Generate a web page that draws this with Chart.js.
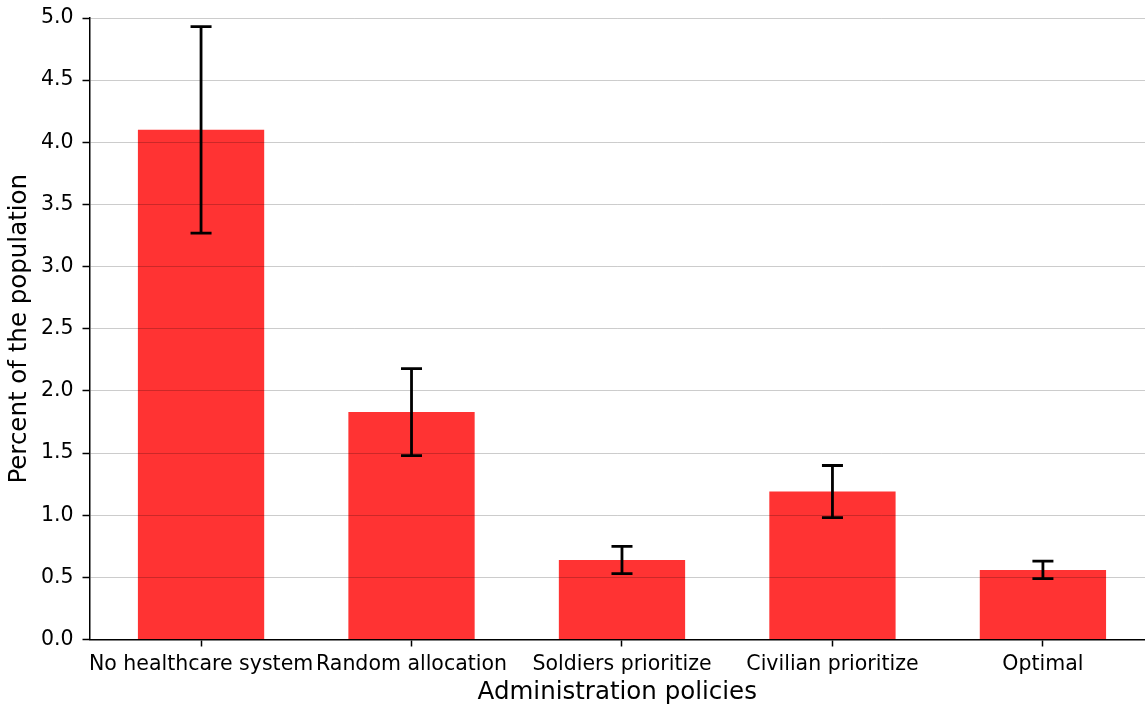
<!DOCTYPE html>
<html>
<head>
<meta charset="utf-8">
<script src="https://cdn.jsdelivr.net/npm/chart.js@4"></script>
<style>
  html, body { margin: 0; padding: 0; background: #fff; overflow: hidden; }
  #wrap { width: 1145px; height: 704px; }
</style>
</head>
<body>
<div id="wrap"><canvas id="chart"></canvas></div>
<script>
// policies and the share of the population (mean, lower and upper error)
const policies = ['No healthcare system', 'Random allocation', 'Soldiers prioritize', 'Civilian prioritize', 'Optimal'];
const rates = [4.10, 1.83, 0.64, 1.19, 0.56];
const errLow = [3.27, 1.48, 0.53, 0.98, 0.49];
const errHigh = [4.93, 2.18, 0.75, 1.40, 0.63];
const yTicks = [0, 0.5, 1, 1.5, 2, 2.5, 3, 3.5, 4, 4.5, 5];

Chart.defaults.font.family = '"DejaVu Sans", sans-serif';
Chart.defaults.color = '#000';

// draws the black error bars with caps
const errorBars = {
  id: 'errorBars',
  afterDraw(chart) {
    const ctx = chart.ctx;
    const x = chart.scales.x;
    const y = chart.scales.y;
    ctx.save();
    ctx.strokeStyle = '#000';
    ctx.lineWidth = 2.8;
    for (let i = 0; i < rates.length; i++) {
      const px = x.getPixelForValue(i);
      const top = y.getPixelForValue(errHigh[i]);
      const bot = y.getPixelForValue(errLow[i]);
      ctx.beginPath();
      ctx.moveTo(px, top);
      ctx.lineTo(px, bot);
      ctx.moveTo(px - 10.5, top);
      ctx.lineTo(px + 10.5, top);
      ctx.moveTo(px - 10.5, bot);
      ctx.lineTo(px + 10.5, bot);
      ctx.stroke();
    }
    ctx.restore();
  }
};

const ctx = document.getElementById('chart').getContext('2d');
const chart = new Chart(ctx, {
  type: 'bar',
  data: {
    datasets: [{
      data: policies.map((p, i) => ({ x: i, y: rates[i] })),
      backgroundColor: 'rgb(255, 51, 51)',
      borderWidth: 0,
      barPercentage: 0.6,
      categoryPercentage: 1.0
    }]
  },
  options: {
    responsive: true,
    maintainAspectRatio: false,
    animation: false,
    layout: { padding: { top: 18, right: 0, left: 0, bottom: -3 } },
    plugins: {
      legend: { display: false },
      tooltip: { enabled: false }
    },
    scales: {
      x: {
        type: 'linear',
        offset: false,
        min: -0.53,
        max: 4.485,
        afterBuildTicks: (axis) => { axis.ticks = policies.map((p, i) => ({ value: i })); },
        afterFit: (axis) => { axis.height = 67.5; axis.paddingLeft = 0; axis.paddingRight = 0; },
        ticks: {
          autoSkip: false,
          maxRotation: 0,
          padding: 6,
          font: { size: 20.5 },
          callback: (v) => policies[v]
        },
        grid: { offset: false, drawOnChartArea: false, tickLength: 7, tickColor: '#000', tickWidth: 1.5 },
        border: { color: '#000', width: 1.5, z: 2 },
        title: {
          display: true,
          text: 'Administration policies',
          font: { size: 24.5 },
          padding: { top: 0, bottom: 0 }
        }
      },
      y: {
        min: 0,
        max: 5,
        afterBuildTicks: (axis) => { axis.ticks = yTicks.map(v => ({ value: v })); },
        afterFit: (axis) => { axis.width = 89.5; axis.paddingTop = 0; axis.paddingBottom = 0; },
        ticks: {
          padding: 9,
          font: { size: 20.5 },
          callback: (v) => v.toFixed(1)
        },
        grid: { color: 'rgba(0,0,0,0.2)', lineWidth: 1, z: 1, tickLength: 7, tickColor: '#000', tickWidth: 1.5 },
        border: { color: '#000', width: 1.5, z: 2 },
        title: {
          display: true,
          text: 'Percent of the population',
          font: { size: 24.5 },
          padding: { top: 5, bottom: 0 }
        }
      }
    }
  },
  plugins: [errorBars]
});
</script>
</body>
</html>
